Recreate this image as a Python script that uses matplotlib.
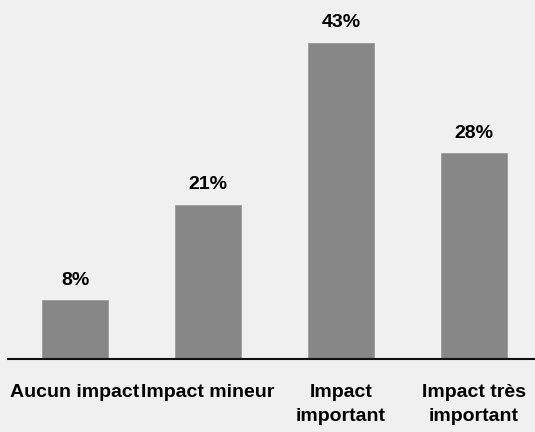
import numpy as np
import matplotlib.pyplot as plt

categories = ["Aucun impact", "Impact mineur", "Impact\nimportant", "Impact très\nimportant"]
values = [8, 21, 43, 28]

plt.rcParams['font.family'] = ['Liberation Sans', 'DejaVu Sans']

fig = plt.figure(figsize=(5.35, 4.32), dpi=100, facecolor='#f0f0f0')
ax = fig.add_axes([8/535, 73/432, 527/535, 359/432])
ax.set_facecolor('#f0f0f0')

x = np.arange(len(categories))
ax.bar(x, values, width=0.5, color='#878787', edgecolor='#9a9a9a', linewidth=0.6)

# percentage labels above bars
for xi, v in zip(x, values):
    ax.annotate(f"{v}%", (xi, v), xytext=(0, 11), textcoords='offset points',
                ha='center', va='baseline', fontsize=14, fontweight='bold')

ax.set_xlim(-0.504, 3.459)
ax.set_ylim(0, 48.8)
ax.set_xticks(x)
ax.set_xticklabels(categories, fontsize=14, fontweight='bold', linespacing=1.55)
ax.tick_params(axis='x', length=0, pad=18)
ax.set_yticks([])
for s in ['top', 'right', 'left']:
    ax.spines[s].set_visible(False)
ax.spines['bottom'].set_linewidth(1.5)
ax.spines['bottom'].set_color('#111111')

fig.savefig('out.png', dpi=100, facecolor='#f0f0f0')
